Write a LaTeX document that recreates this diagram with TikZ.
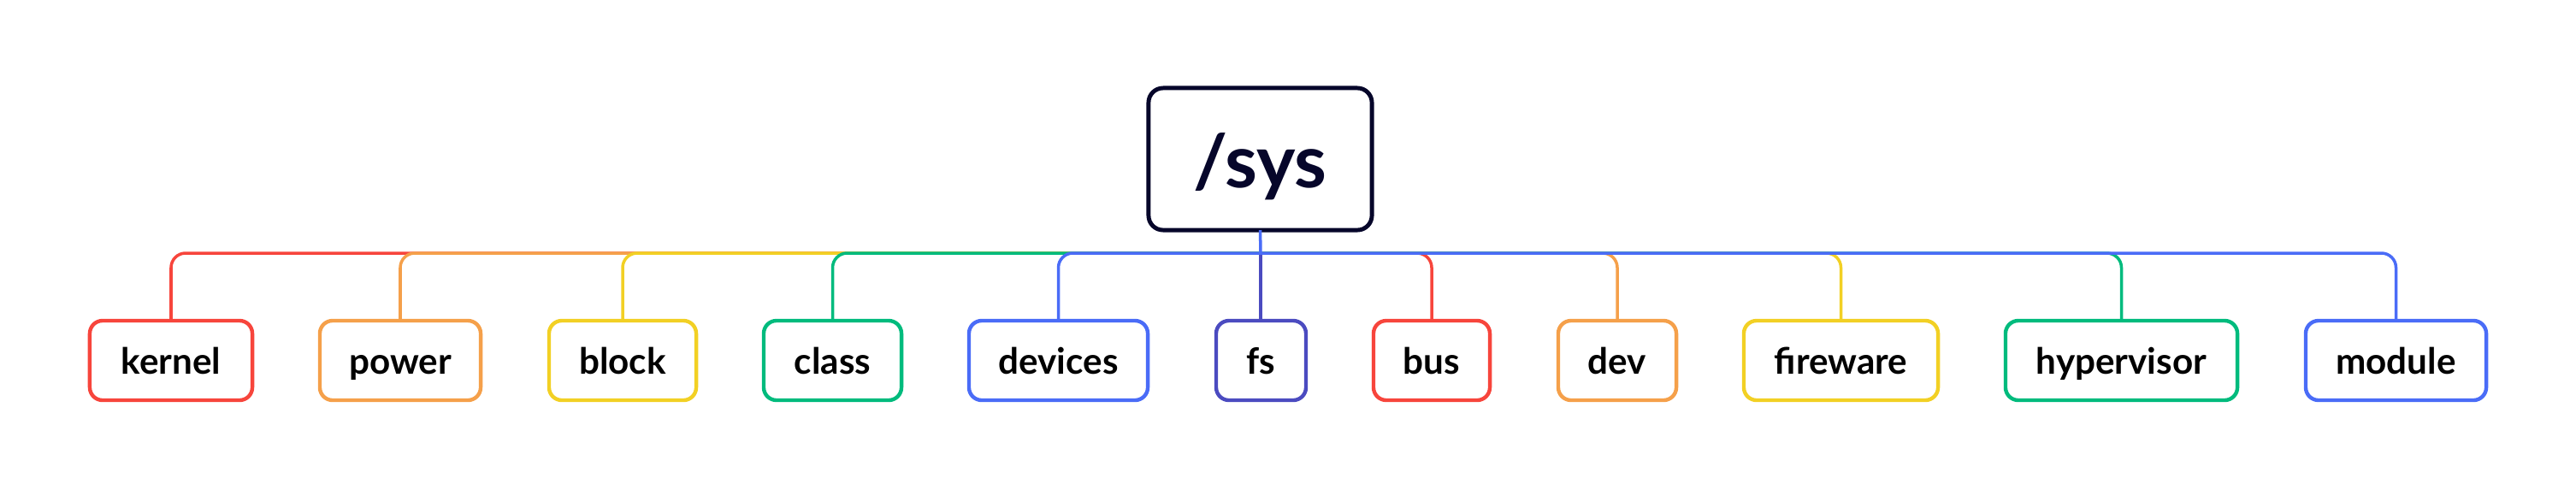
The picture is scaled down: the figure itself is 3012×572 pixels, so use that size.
\documentclass[tikz,border=0pt]{standalone}
\usepackage{fontspec}
\setmainfont{Lato}
\definecolor{cred}{HTML}{F7453C}
\definecolor{corange}{HTML}{F5A04A}
\definecolor{cyellow}{HTML}{F2D024}
\definecolor{cgreen}{HTML}{00BB7D}
\definecolor{cblue}{HTML}{4A6CF7}
\definecolor{cindigo}{HTML}{4B4BC0}
\definecolor{cnavy}{HTML}{06062A}
\begin{document}
\begin{tikzpicture}[x=0.01cm,y=-0.01cm,
  leaf/.style={draw=#1, line width=1.25pt, rounded corners=0.15cm, fill=white,
    minimum height=0.93cm, inner sep=0pt, outer sep=0pt,
    text height=0.32cm, text depth=0cm,
    font=\fontsize{12}{14}\selectfont\bfseries, text=black},
  rootbox/.style={draw=cnavy, line width=1.4pt, rounded corners=0.17cm, fill=white,
    minimum width=2.61cm, minimum height=1.66cm, inner sep=0pt, outer sep=0pt,
    text height=0.67cm, text depth=0cm,
    font=\fontsize{24.5}{28}\selectfont\bfseries, text=cnavy},
  link/.style={draw=#1, line width=1pt, rounded corners=0.17cm}]
\useasboundingbox (0,0) rectangle (3012,572);
\node[rootbox] (root) at (1473.5,186) {/sys};
\node[leaf=cred,    minimum width=1.90cm] (kernel)     at (200,421.5)   {kernel};
\node[leaf=corange, minimum width=1.88cm] (power)      at (468,421.5)   {power};
\node[leaf=cyellow, minimum width=1.72cm] (block)      at (728,421.5)   {block};
\node[leaf=cgreen,  minimum width=1.61cm] (class)      at (973.5,421.5) {class};
\node[leaf=cblue,   minimum width=2.09cm] (devices)    at (1237.5,421.5){devices};
\node[leaf=cindigo, minimum width=1.05cm] (fs)         at (1474.5,421.5){fs};
\node[leaf=cred,    minimum width=1.36cm] (bus)        at (1674,421.5)  {bus};
\node[leaf=corange, minimum width=1.38cm] (dev)        at (1891,421.5)  {dev};
\node[leaf=cyellow, minimum width=2.27cm] (fireware)   at (2152.5,421.5){fireware};
\node[leaf=cgreen,  minimum width=2.71cm] (hypervisor) at (2480.5,421.5){hypervisor};
\node[leaf=cblue,   minimum width=2.11cm] (module)     at (2801.5,421.5){module};
\coordinate (j) at (1474,296);
\draw[link=cindigo] (j) -- (j |- fs.north);
\draw[link=cred]    (j) -| (kernel.north);
\draw[link=corange] (j) -| (power.north);
\draw[link=cyellow] (j) -| (block.north);
\draw[link=cgreen]  (j) -| (class.north);
\draw[link=cblue]   (j) -| (devices.north);
\draw[link=cred]    (j) -| (bus.north);
\draw[link=corange] (j) -| (dev.north);
\draw[link=cyellow] (j) -| (fireware.north);
\draw[link=cgreen]  (j) -| (hypervisor.north);
\draw[link=cblue]   (j) -| (module.north);
\draw[link=cblue]   (root.south) -- (j);
\end{tikzpicture}
\end{document}
